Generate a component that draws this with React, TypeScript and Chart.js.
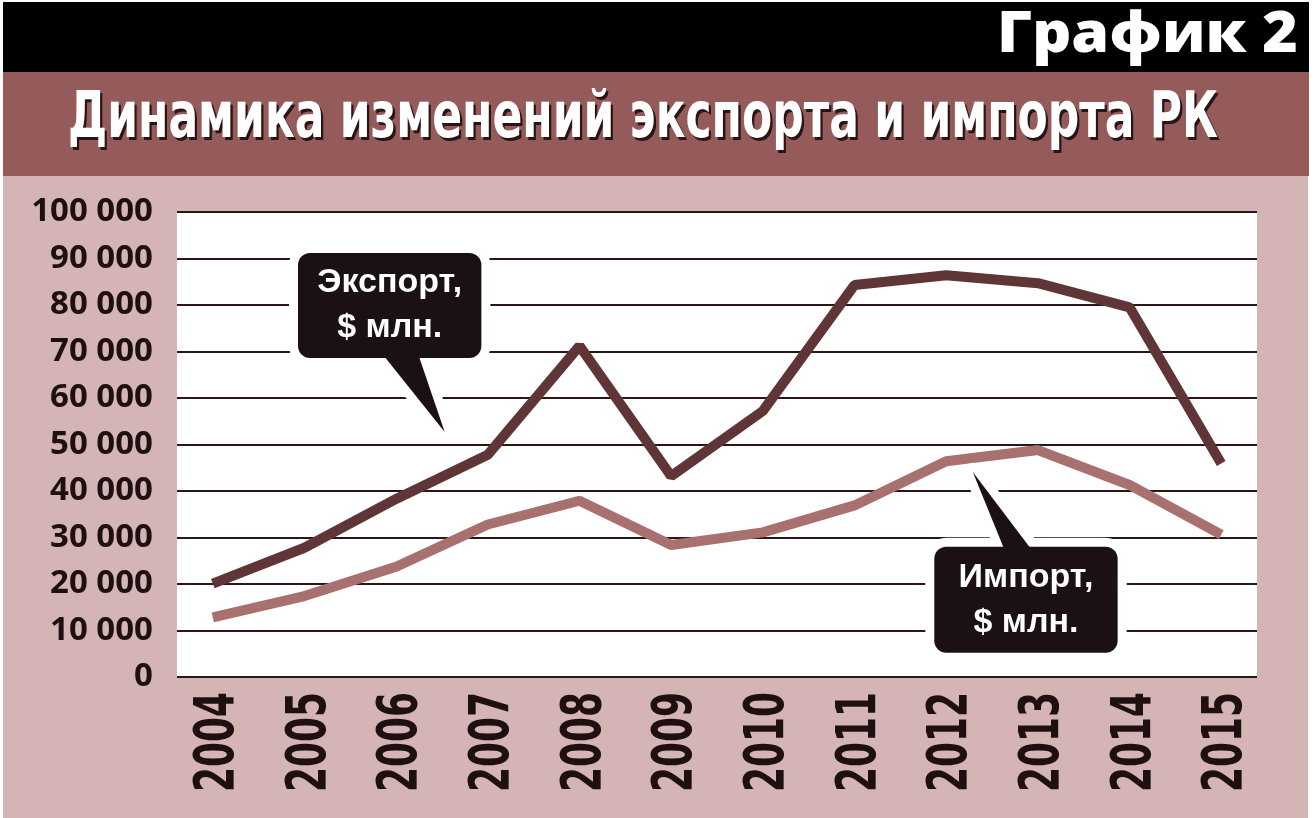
import React, { useEffect, useLayoutEffect, useRef } from "react";
import { Chart, registerables } from "chart.js";

Chart.register(...registerables);

// ---- data ----
const years = [2004, 2005, 2006, 2007, 2008, 2009, 2010, 2011, 2012, 2013, 2014, 2015];
const exportValues = [20100, 27800, 38300, 47800, 71200, 43200, 57200, 84300, 86400, 84700, 79500, 45900];
const importValues = [12800, 17400, 23700, 32800, 37900, 28400, 31100, 36900, 46400, 48800, 41300, 30600];
const yTickValues = [0, 10000, 20000, 30000, 40000, 50000, 60000, 70000, 80000, 90000, 100000];
const seriesNames = ["Экспорт", "Импорт"];
const calloutLines = [
  ["Экспорт,", "$ млн."],
  ["Импорт,", "$ млн."],
];
const headerLabel = "График 2";
const titleText = "Динамика изменений экспорта и импорта РК";

// callout placement, in data units (year, value)
const calloutPlacement = [
  { x0: 2004.93, x1: 2006.93, yTop: 91200, yBottom: 68600, baseX0: 2005.85, baseX1: 2006.24, tipX: 2006.53, tipY: 52700, side: "bottom" },
  { x0: 2011.87, x1: 2013.87, yTop: 28000, yBottom: 5200, baseX0: 2012.64, baseX1: 2012.94, tipX: 2012.29, tipY: 44100, side: "top" },
];

const COLORS = {
  band: "#000000",
  mauve: "#955b5b",
  pink: "#d4b4b5",
  exportLine: "#5f3537",
  importLine: "#a97070",
  grid: "#2b1517",
  callout: "#1c1112",
  text: "#1e1011",
};

const CONDENSED = '"Liberation Sans Narrow", "DejaVu Sans Condensed", "DejaVu Sans", sans-serif';

const formatThousands = (v: number) => String(v).replace(/\B(?=(\d{3})+(?!\d))/g, " ");

const plotBackground = {
  id: "plotBackground",
  beforeDraw(chart: any) {
    const { ctx, chartArea } = chart;
    ctx.save();
    ctx.fillStyle = "#ffffff";
    ctx.fillRect(chartArea.left, chartArea.top, chartArea.right - chartArea.left, chartArea.bottom - chartArea.top);
    ctx.restore();
  },
};

// draws the x-axis year labels (from the scale's ticks), rotated and condensed
const yearLabels = {
  id: "yearLabels",
  afterDraw(chart: any) {
    const { ctx, chartArea } = chart;
    const xs = chart.scales.x;
    const fontSize = 55;
    const capHeight = fontSize * 0.73;
    const labelLength = 100;
    ctx.save();
    ctx.fillStyle = COLORS.text;
    ctx.font = `bold ${fontSize}px ${CONDENSED}`;
    ctx.textAlign = "right";
    ctx.textBaseline = "alphabetic";
    xs.ticks.forEach((t: any) => {
      const label = String(t.value);
      const px = xs.getPixelForValue(t.value);
      const w = ctx.measureText(label).width;
      ctx.save();
      ctx.translate(px, chartArea.bottom + 15);
      ctx.rotate(-Math.PI / 2);
      ctx.scale(labelLength / w, 1);
      ctx.fillText(label, 0, capHeight / 2);
      ctx.restore();
    });
    ctx.restore();
  },
};

const calloutPlugin = {
  id: "callouts",
  afterDraw(chart: any) {
    const { ctx } = chart;
    const xs = chart.scales.x;
    const ys = chart.scales.y;
    calloutPlacement.forEach((c, i) => {
      const left = xs.getPixelForValue(c.x0);
      const right = xs.getPixelForValue(c.x1);
      const top = ys.getPixelForValue(c.yTop);
      const bottom = ys.getPixelForValue(c.yBottom);
      const b0 = xs.getPixelForValue(c.baseX0);
      const b1 = xs.getPixelForValue(c.baseX1);
      const tx = xs.getPixelForValue(c.tipX);
      const ty = ys.getPixelForValue(c.tipY);
      const by = c.side === "bottom" ? bottom - 4 : top + 4;
      const rect = () => {
        ctx.beginPath();
        ctx.roundRect(left, top, right - left, bottom - top, 12);
      };
      const tri = () => {
        ctx.beginPath();
        ctx.moveTo(b0, by);
        ctx.lineTo(tx, ty);
        ctx.lineTo(b1, by);
        ctx.closePath();
      };
      ctx.save();
      ctx.lineJoin = "round";
      ctx.strokeStyle = "#ffffff";
      ctx.lineWidth = 18;
      rect();
      ctx.stroke();
      tri();
      ctx.stroke();
      ctx.fillStyle = COLORS.callout;
      rect();
      ctx.fill();
      tri();
      ctx.fill();
      ctx.fillStyle = "#ffffff";
      ctx.font = 'bold 34px "Liberation Sans", Arial, sans-serif';
      ctx.textAlign = "center";
      ctx.textBaseline = "middle";
      const cx = (left + right) / 2;
      const cy = (top + bottom) / 2;
      const lines = calloutLines[i];
      lines.forEach((t, k) => {
        ctx.fillText(t, cx, cy + (k - (lines.length - 1) / 2) * 45);
      });
      ctx.restore();
    });
  },
};

function FitText(props: {
  text: string;
  left: number;
  top: number;
  width: number;
  fontSize: number;
  fontFamily: string;
  fontWeight: number | string;
  shadow?: string;
}) {
  const ref = useRef<HTMLSpanElement>(null);
  useLayoutEffect(() => {
    const el = ref.current;
    if (!el) return;
    el.style.transform = "none";
    const w = el.getBoundingClientRect().width;
    if (w > 0) el.style.transform = `scaleX(${props.width / w})`;
  });
  return (
    <span
      ref={ref}
      style={{
        position: "absolute",
        left: props.left,
        top: props.top,
        whiteSpace: "nowrap",
        fontSize: props.fontSize,
        lineHeight: 1,
        fontFamily: props.fontFamily,
        fontWeight: props.fontWeight as any,
        color: "#ffffff",
        transformOrigin: "left top",
        textShadow: props.shadow,
      }}
    >
      {props.text}
    </span>
  );
}

export default function App() {
  const canvasRef = useRef<HTMLCanvasElement>(null);

  useEffect(() => {
    const canvas = canvasRef.current;
    if (!canvas) return;
    const padding = { left: 0, right: 51, top: 36, bottom: 0 };
    const target = { left: 174, top: 36, right: 1254, bottom: 501 };
    const chart = new Chart(canvas, {
      type: "line",
      data: {
        datasets: [
          {
            label: seriesNames[0],
            data: years.map((yr, i) => ({ x: yr, y: exportValues[i] })),
            borderColor: COLORS.exportLine,
            borderWidth: 10,
            pointRadius: 0,
            tension: 0,
            borderJoinStyle: "bevel",
            borderCapStyle: "butt",
          },
          {
            label: seriesNames[1],
            data: years.map((yr, i) => ({ x: yr, y: importValues[i] })),
            borderColor: COLORS.importLine,
            borderWidth: 10,
            pointRadius: 0,
            tension: 0,
            borderJoinStyle: "bevel",
            borderCapStyle: "butt",
          },
        ],
      },
      options: {
        animation: false,
        responsive: false,
        layout: { padding: { ...padding } },
        plugins: {
          legend: { display: false },
          tooltip: { enabled: false },
          title: { display: false },
        },
        scales: {
          x: {
            type: "linear",
            min: 2003.61,
            max: 2015.39,
            grid: { display: false, drawTicks: false },
            border: { display: false },
            afterBuildTicks: (s: any) => {
              s.ticks = years.map((v) => ({ value: v }));
            },
            afterFit: (s: any) => {
              s.height = 141;
            },
            ticks: { display: false },
          },
          y: {
            min: 0,
            max: 100000,
            z: 1,
            grid: { color: COLORS.grid, lineWidth: 2, drawTicks: true, tickLength: 24, tickColor: "rgba(0,0,0,0)" },
            border: { display: false },
            afterBuildTicks: (s: any) => {
              s.ticks = yTickValues.map((v) => ({ value: v }));
            },
            afterFit: (s: any) => {
              s.width = 174;
            },
            ticks: {
              padding: 0,
              color: COLORS.text,
              font: { family: '"Noto Sans", sans-serif', weight: "bold", size: 33 },
              callback: (v: any) => formatThousands(Number(v)),
            },
          },
        },
      } as any,
      plugins: [plotBackground, yearLabels, calloutPlugin],
    });
    // nudge layout padding so the plot area lands exactly where the reference has it
    for (let k = 0; k < 3; k++) {
      const a = chart.chartArea;
      const dTop = a.top - target.top;
      const dLeft = a.left - target.left;
      const dRight = target.right - a.right;
      const dBottom = target.bottom - a.bottom;
      if (Math.abs(dTop) < 0.5 && Math.abs(dLeft) < 0.5 && Math.abs(dRight) < 0.5 && Math.abs(dBottom) < 0.5) break;
      padding.top -= dTop;
      padding.left -= dLeft;
      padding.right -= dRight;
      padding.bottom -= dBottom;
      (chart.config.options as any).layout.padding = { ...padding };
      chart.update();
    }
    return () => chart.destroy();
  }, []);

  return (
    <div style={{ position: "absolute", left: 0, top: 0, width: 1315, height: 818, background: "#ffffff", overflow: "hidden" }}>
      <div style={{ position: "absolute", left: 3, top: 2, width: 1306, height: 70, background: COLORS.band }} />
      <FitText text={headerLabel} left={997} top={2} width={301} fontSize={56} fontFamily='"Open Sans", sans-serif' fontWeight={800} />
      <div style={{ position: "absolute", left: 3, top: 72, width: 1306, height: 104, background: COLORS.mauve }} />
      <FitText
        text={titleText}
        left={68}
        top={83}
        width={1150}
        fontSize={64}
        fontFamily={CONDENSED}
        fontWeight="bold"
        shadow="3px 3px 0 #2a1416"
      />
      <div style={{ position: "absolute", left: 3, top: 176, width: 1305, height: 642, background: COLORS.pink }} />
      <canvas ref={canvasRef} width={1305} height={642} style={{ position: "absolute", left: 3, top: 176, width: 1305, height: 642 }} />
    </div>
  );
}
